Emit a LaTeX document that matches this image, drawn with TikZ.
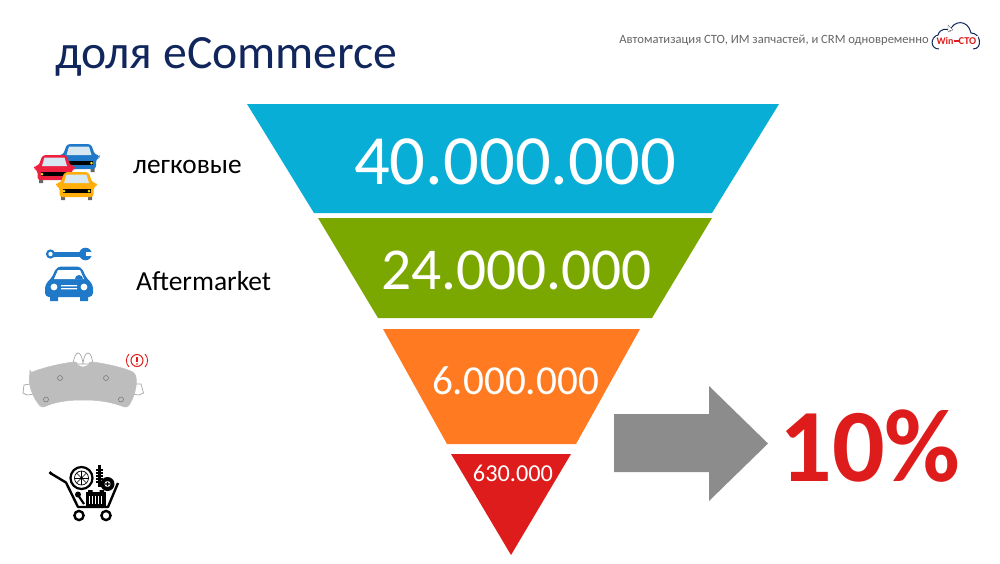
\documentclass[tikz,border=0pt]{standalone}
\usepackage{fontspec}
\setmainfont{Carlito}
\definecolor{cCyan}{HTML}{08AED6}
\definecolor{cGreen}{HTML}{7BA800}
\definecolor{cOrange}{HTML}{FF7A21}
\definecolor{cRed}{HTML}{DF1C1C}
\definecolor{cNavy}{HTML}{10265C}
\definecolor{cGrey}{HTML}{8C8C8C}
\definecolor{cBlue}{HTML}{1F78C8}
\definecolor{cCarRed}{HTML}{EE2040}
\definecolor{cCarYel}{HTML}{FFAE0A}
\definecolor{cGlass}{HTML}{D8E8F2}
\definecolor{cPad}{HTML}{BDBDBD}
\newcommand{\fsz}[1]{\fontsize{#1}{#1}\selectfont}
% front-view car: centre x, top y, colour
\newcommand{\frontcar}[3]{%
 \begin{scope}[shift={(#1,#2)}]
  \fill[black!60] (-15.5,23) rectangle (-11.5,28) (11.5,23) rectangle (15.5,28);
  \fill[#3,rounded corners=3pt] (-12,0) -- (12,0) -- (16,11) -- (20.5,11) -- (20.5,14) -- (17,15) -- (17,25) -- (-17,25) -- (-17,15) -- (-20.5,14) -- (-20.5,11) -- (-16,11) -- cycle;
  \fill[cGlass] (-10,2.5) -- (10,2.5) -- (12.5,11) -- (-12.5,11) -- cycle;
  \fill[black] (-14,17) rectangle (14,21);
  \fill[yellow!90!black] (-12.5,19) circle (1.5) (12.5,19) circle (1.5);
 \end{scope}}
\begin{document}
\begin{tikzpicture}[x=1pt,y=-1pt,
  numlabel/.style={text=white,inner sep=0pt,anchor=center},
  sidelabel/.style={text=black,inner sep=0pt,anchor=west}]
\useasboundingbox (0,0) rectangle (1000,563);
\fill[white] (0,0) rectangle (1000,563);

% title and header
\node[anchor=west,inner sep=0pt,text=cNavy] (title) at (55,57) {\fsz{47.7}доля eCommerce};
\node[anchor=east,inner sep=0pt,text=black!60] (head) at (929,40) {\fsz{12.6}Автоматизация СТО, ИМ запчастей, и CRM одновременно};

% logo
\draw[cNavy,line width=1pt,fill=white] (939,49) .. controls (930,49) and (930,37) .. (938,35)
  .. controls (940,28) and (948,28) .. (950,31)
  .. controls (953,20) and (968,19) .. (971,33)
  .. controls (981,33) and (983,49) .. (973,49);
\fill[white] (936,36) rectangle (978,46);
\draw[black!50,fill=white,line width=.4pt] (948,25) -- (948,32) -- (950,30.5) -- (953,30) -- cycle;
\node[inner sep=0pt,text=cRed] (logoa) at (945,41) {\fsz{10}\bfseries Win};
\node[inner sep=0pt,text=cRed] (logob) at (967.5,41) {\fsz{10.5}\bfseries CTO};
\draw[cRed,line width=1.1pt] (logoa.east) -- (logob.west);

% funnel
\path[fill=cCyan] (247,104) -- (779,104) -- (712,213) -- (314,213) -- cycle;
\path[fill=cGreen] (318,218) -- (712,218) -- (652,318) -- (378,318) -- cycle;
\path[fill=cOrange] (383,329) -- (640,329) -- (576,444) -- (447,444) -- cycle;
\path[fill=cRed] (451,454) -- (571,454) -- (511,555) -- cycle;
\node[numlabel] (n1) at (515,162) {\fsz{70.6}40.000.000};
\node[numlabel] (n2) at (516.5,270) {\fsz{59.4}24.000.000};
\node[numlabel] (n3) at (515.5,381) {\fsz{41.2}6.000.000};
\node[numlabel] (n4) at (513,473) {\fsz{24.3}630.000};

% arrow and percent
\fill[cGrey] (614,414) -- (709,414) -- (709,386) -- (768,443.5) -- (709,501) -- (709,472) -- (614,472) -- cycle;
\node[inner sep=0pt,text=cRed] (pct) at (870,446) {\fsz{104}\bfseries 10\%};

% side labels
\node[sidelabel] (l1) at (133,167) {\fsz{27.3}легковые};
\node[sidelabel] (l2) at (136,281) {\fsz{27.5}Aftermarket};

% cars
\frontcar{79}{144}{cBlue}
\frontcar{54.5}{155}{cCarRed}
\frontcar{76.5}{172}{cCarYel}

% wrench
\fill[cBlue] (50,251.5) rectangle (86,256.5);
\fill[cBlue] (50.5,254) circle (4.6);
\fill[white] (50.5,254) circle (2.2);
\fill[cBlue] (85.5,254) circle (6.3);
\fill[white] (86,251.7) rectangle (93,256.3);

% service car
\fill[cBlue] (50,294) rectangle (58,301) (80,294) rectangle (88,301);
\fill[cBlue,rounded corners=4pt] (57,266.5) -- (81,266.5) -- (87,279) -- (93,284) -- (93,297) -- (45,297) -- (45,284) -- (51,279) -- cycle;
\fill[white] (58,270) -- (80,270) -- (84,279) -- (54,279) -- cycle;
\fill[cBlue] (75,279) arc (180:360:4) -- cycle;
\fill[white] (54,287) circle (3.4) (84,287) circle (3.4);
\fill[white] (61,285) rectangle (77,286.3) (61,288) rectangle (77,289.3);

% brake pad
\draw[black!35,line width=.7pt,fill=white] (30,384) -- (24,385) -- (23,393) -- (27,395) -- (35,394) -- cycle;
\draw[black!35,line width=.7pt,fill=white] (135,384) -- (141,384) -- (143.5,393) -- (139,395) -- (131,394) -- cycle;
\draw[black!35,line width=.7pt,fill=white] (73,364) .. controls (74,357) and (76,353) .. (78,353) .. controls (81,353) and (82,358) .. (83,363)
  .. controls (84,358) and (85,353) .. (88,353) .. controls (91,353) and (92,358) .. (93,364) -- cycle;
\fill[cPad,draw=black!25,line width=.5pt,rounded corners=3pt] (30,373) .. controls (45,367) and (60,364) .. (73,362)
  .. controls (76,362) and (78,365) .. (80,367) -- (86,367) .. controls (88,365) and (90,362) .. (93,362)
  .. controls (106,364) and (122,367) .. (135,373)
  .. controls (138,385) and (134,398) .. (127,408)
  .. controls (112,402) and (98,400) .. (83,400)
  .. controls (68,400) and (54,402) .. (42,408)
  .. controls (33,398) and (28,385) .. (30,373) -- cycle;
\draw[black!55,line width=.5pt] (60,378) circle (2.5) (106,378) circle (2.5) (46,399.5) circle (2.5) (121,399.5) circle (2.5);
% warning
\draw[cRed,line width=1pt] (137,360.5) circle (6);
\draw[cRed,line width=.9pt] (129,354) .. controls (125.5,358) and (125.5,363) .. (129,367)
  (145,354) .. controls (148.5,358) and (148.5,363) .. (145,367);
\draw[cRed,line width=1.5pt] (137,356.5) -- (137,361.5);
\fill[cRed] (137,364) circle (.9);

% cart
\draw[black,line width=2.4pt,line join=round] (51,473.5) -- (66,482.5) -- (78,507) -- (108,507) -- (118,483);
\fill[black] (50.5,473) circle (1.8);
\draw[black,line width=2.4pt] (79,515.5) circle (4.6) (106,515.5) circle (4.6);
\draw[black,line width=2.2pt,fill=white] (81.5,478) circle (11);
\draw[black,line width=.7pt] (81.5,478) circle (7);
\foreach \a in {0,45,...,315}{\draw[black,line width=.6pt] (81.5,478) -- ++(\a:7);}
\fill[black] (81.5,478) circle (1.7);
\fill[black] (98,465) rectangle (101,487);
\draw[black,line width=1.1pt] (96,470) -- (103,470) (96,473) -- (103,473) (96,476) -- (103,476) (96,479) -- (103,479) (96,482) -- (103,482);
\fill[black] (107.5,484) circle (7);
\fill[white] (107.5,484) circle (3);
\fill[black] (106.8,481.6) rectangle (108.2,486.4) (105.1,483.3) rectangle (109.9,484.7);
\fill[black] (86,492) rectangle (106,506);
\fill[black] (88,490) rectangle (92.5,492) (99.5,490) rectangle (104,492);
\foreach \x in {89,92,95,98,101}{\fill[white] (\x,495.5) rectangle (\x+1.4,504);}
\draw[black,line width=2.2pt] (78,495) -- (84,504);
\fill[black] (78,494.5) circle (3);
\end{tikzpicture}
\end{document}
